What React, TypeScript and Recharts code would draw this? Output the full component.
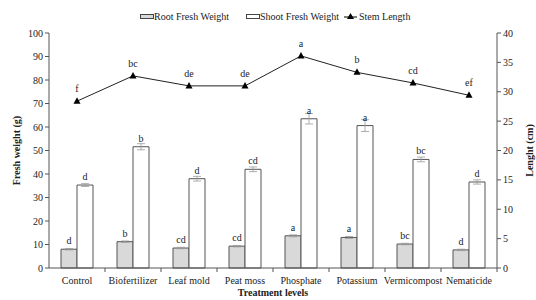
import React from "react";
import {
  ComposedChart,
  Bar,
  Line,
  XAxis,
  YAxis,
  Legend,
  ErrorBar,
  LabelList,
} from "recharts";

const categories = ["Control", "Biofertilizer", "Leaf mold", "Peat moss", "Phosphate", "Potassium", "Vermicompost", "Nematicide"];
const rootWeight = [8.0, 11.2, 8.5, 9.3, 13.7, 13.0, 10.2, 7.7];
const rootErr = [0.3, 0.3, 0.3, 0.3, 0.4, 0.4, 0.3, 0.3];
const rootLetters = ["d", "b", "cd", "cd", "a", "a", "bc", "d"];
const shootWeight = [35.3, 51.6, 38.0, 42.0, 63.5, 60.6, 46.2, 36.6];
const shootErr = [0.6, 1.3, 1.0, 1.0, 2.2, 2.5, 1.0, 0.9];
const shootLetters = ["d", "b", "d", "cd", "a", "a", "bc", "d"];
const stemLength = [28.4, 32.7, 31.0, 31.0, 36.1, 33.3, 31.5, 29.4];
const stemLetters = ["f", "bc", "de", "de", "a", "b", "cd", "ef"];
const leftTicks = [0, 10, 20, 30, 40, 50, 60, 70, 80, 90, 100];
const rightTicks = [0, 5, 10, 15, 20, 25, 30, 35, 40];

const data = categories.map((name, i) => ({
  name,
  root: rootWeight[i],
  rootErr: rootErr[i],
  rootL: rootLetters[i],
  shoot: shootWeight[i],
  shootErr: shootErr[i],
  shootL: shootLetters[i],
  stem: stemLength[i],
  stemL: stemLetters[i],
}));

const FONT = "Liberation Serif, Times New Roman, serif";
const AXIS = "#555";
const TXT = "#222";
const W = 536;
const H = 300;
const PLOT_LEFT = 49;
const PLOT_RIGHT = 497;
const HALF_BAND = (PLOT_RIGHT - PLOT_LEFT) / categories.length / 2;

function XTick(props: any) {
  const { x, y, payload } = props;
  return (
    <g>
      <line x1={x + HALF_BAND} x2={x + HALF_BAND} y1={y - 8} y2={y - 4} stroke={AXIS} />
      <text x={x} y={y + 8} textAnchor="middle" fontSize={10} fill={TXT}>
        {payload.value}
      </text>
    </g>
  );
}

function Triangle(props: any) {
  const { cx, cy } = props;
  return <path d={`M${cx},${cy - 4}L${cx + 3.5},${cy + 2.5}L${cx - 3.5},${cy + 2.5}Z`} fill="#000" />;
}

function LegendBox() {
  return (
    <svg width={W} height={26} style={{ display: "block", overflow: "visible" }}>
      <rect x={140.5} y={14.5} width={13} height={4} fill="#d9d9d9" stroke="#444" />
      <text x={154} y={20} fontSize={10} fill={TXT}>Root Fresh Weight</text>
      <rect x={246.5} y={14.5} width={13} height={4} fill="#fff" stroke="#444" />
      <text x={260} y={20} fontSize={10} fill={TXT}>Shoot Fresh Weight</text>
      <line x1={344} x2={357} y1={17} y2={17} stroke="#000" />
      <path d="M350.5,13L354,19L347,19Z" fill="#000" />
      <text x={359} y={20} fontSize={10} fill={TXT}>Stem Length</text>
    </svg>
  );
}

export default function App() {
  return (
    <div style={{ position: "absolute", left: 0, top: 0, fontFamily: FONT }}>
      <style>{`.chart text { font-family: ${FONT}; }`}</style>
      <div className="chart">
        <ComposedChart
          width={W}
          height={H}
          data={data}
          margin={{ top: 13, right: 0, left: 0, bottom: 0 }}
          barGap={0}
          barSize={16}
        >
          <Legend
            verticalAlign="top"
            height={20}
            wrapperStyle={{ left: 0, top: 0, width: W, overflow: "visible" }}
            content={() => <LegendBox />}
          />
          <XAxis
            dataKey="name"
            height={32}
            tick={<XTick />}
            tickLine={false}
            interval={0}
            stroke={AXIS}
            label={{ value: "Treatment levels", position: "insideBottom", offset: 4, fontSize: 10, fontWeight: "bold", fill: TXT }}
          />
          <YAxis
            yAxisId="left"
            width={PLOT_LEFT}
            domain={[0, 100]}
            ticks={leftTicks}
            interval={0}
            stroke={AXIS}
            tickSize={4}
            tick={{ fontSize: 10, fill: TXT }}
            label={{ value: "Fresh weight (g)", angle: -90, position: "insideLeft", offset: 16, fontSize: 10, fontWeight: "bold", fill: TXT, style: { textAnchor: "middle" } }}
          />
          <YAxis
            yAxisId="right"
            orientation="right"
            width={W - PLOT_RIGHT}
            domain={[0, 40]}
            ticks={rightTicks}
            interval={0}
            stroke={AXIS}
            tickSize={4}
            tick={{ fontSize: 10, fill: TXT }}
            label={{ value: "Lenght (cm)", angle: -90, position: "insideRight", offset: 7, fontSize: 10, fontWeight: "bold", fill: TXT, style: { textAnchor: "middle" } }}
          />
          <Bar yAxisId="left" dataKey="root" fill="#d9d9d9" stroke="#555" strokeWidth={1} isAnimationActive={false}>
            <ErrorBar dataKey="rootErr" width={4} stroke="#999" strokeWidth={0.8} />
            <LabelList dataKey="rootL" position="top" offset={5} fontSize={10} fill={TXT} />
          </Bar>
          <Bar yAxisId="left" dataKey="shoot" fill="#fff" stroke="#555" strokeWidth={1} isAnimationActive={false}>
            <ErrorBar dataKey="shootErr" width={4} stroke="#999" strokeWidth={0.8} />
            <LabelList dataKey="shootL" position="top" offset={5} fontSize={10} fill={TXT} />
          </Bar>
          <Line
            yAxisId="right"
            dataKey="stem"
            stroke="#222"
            strokeWidth={1}
            dot={<Triangle />}
            activeDot={false}
            isAnimationActive={false}
          >
            <LabelList dataKey="stemL" position="top" offset={9} fontSize={10} fill={TXT} />
          </Line>
        </ComposedChart>
      </div>
    </div>
  );
}
